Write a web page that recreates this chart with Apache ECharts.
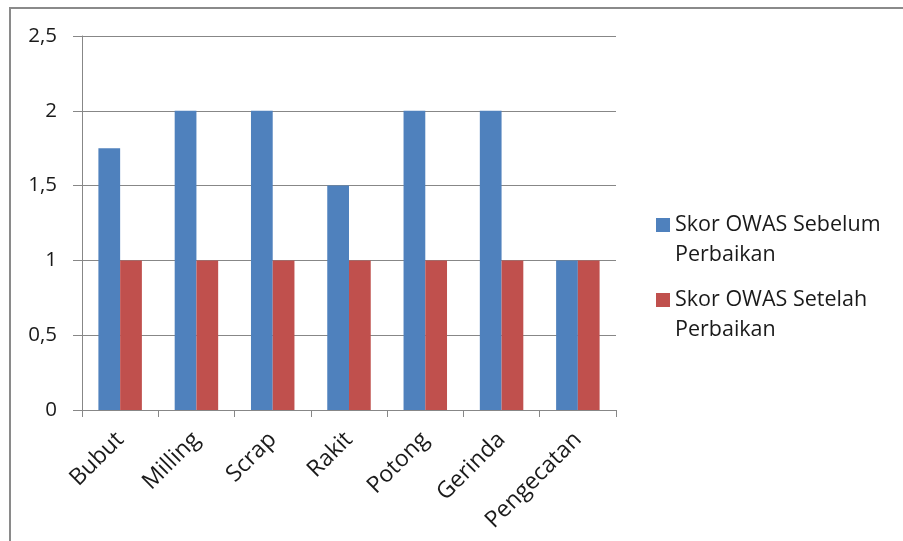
<!DOCTYPE html>
<html>
<head>
<meta charset="utf-8">
<script src="https://cdn.jsdelivr.net/npm/echarts@6/dist/echarts.min.js"></script>
<style>
  html, body { margin: 0; padding: 0; background: #fff; }
  #frame {
    position: absolute; left: 9px; top: 7px; width: 1000px; height: 600px;
    border-top: 2px solid #8a8a8a; border-left: 2px solid #8a8a8a;
  }
  #main { position: absolute; left: 0; top: 0; width: 903px; height: 541px; }
</style>
</head>
<body>
<div id="frame"></div>
<div id="main"></div>
<script>
const categories = ["Bubut", "Milling", "Scrap", "Rakit", "Potong", "Gerinda", "Pengecatan"];
const sebelum = [1.75, 2, 2, 1.5, 2, 2, 1];
const setelah = [1, 1, 1, 1, 1, 1, 1];
const seriesNames = ["Skor OWAS Sebelum\nPerbaikan", "Skor OWAS Setelah\nPerbaikan"];

const chart = echarts.init(document.getElementById("main"));

// square on top, invisible point below so the icon lines up with the first text line
const legendIcon = "path://M0,0h14v14h-14z M0,44h0.01";
const fontFamily = "Open Sans";
const axisGray = "#878787";

const option = {
  animation: false,
  color: ["#4F81BD", "#C0504D"],
  textStyle: { fontFamily: fontFamily },
  grid: { left: 82, right: 287, top: 36, bottom: 131 },
  legend: {
    orient: "vertical",
    left: 656,
    top: 210,
    padding: 0,
    itemGap: 15,
    itemWidth: 14,
    itemHeight: 44,
    icon: legendIcon,
    textStyle: { fontSize: 21.5, lineHeight: 30, color: "#1a1a1a", fontFamily: fontFamily },
  },
  xAxis: {
    type: "category",
    data: categories,
    axisLine: { lineStyle: { color: axisGray, width: 1 } },
    axisTick: { show: true, length: 7, lineStyle: { color: axisGray } },
    axisLabel: {
      rotate: 45,
      margin: 26,
      fontSize: 23,
      color: "#1a1a1a",
      interval: 0,
      fontFamily: fontFamily,
    },
  },
  yAxis: {
    type: "value",
    min: 0,
    max: 2.5,
    interval: 0.5,
    axisLine: { show: true, lineStyle: { color: axisGray, width: 1 } },
    axisTick: { show: true, length: 9, lineStyle: { color: axisGray } },
    splitLine: { show: true, lineStyle: { color: axisGray, width: 1 } },
    axisLabel: {
      margin: 25,
      fontSize: 20.5,
      color: "#1a1a1a",
      fontFamily: fontFamily,
      formatter: v => String(v).replace(".", ","),
    },
  },
  series: [
    { name: seriesNames[0], type: "bar", data: sebelum, barGap: "0%", barCategoryGap: "43%" },
    { name: seriesNames[1], type: "bar", data: setelah, barGap: "0%", barCategoryGap: "43%" },
  ],
};

chart.setOption(option);
</script>
</body>
</html>
